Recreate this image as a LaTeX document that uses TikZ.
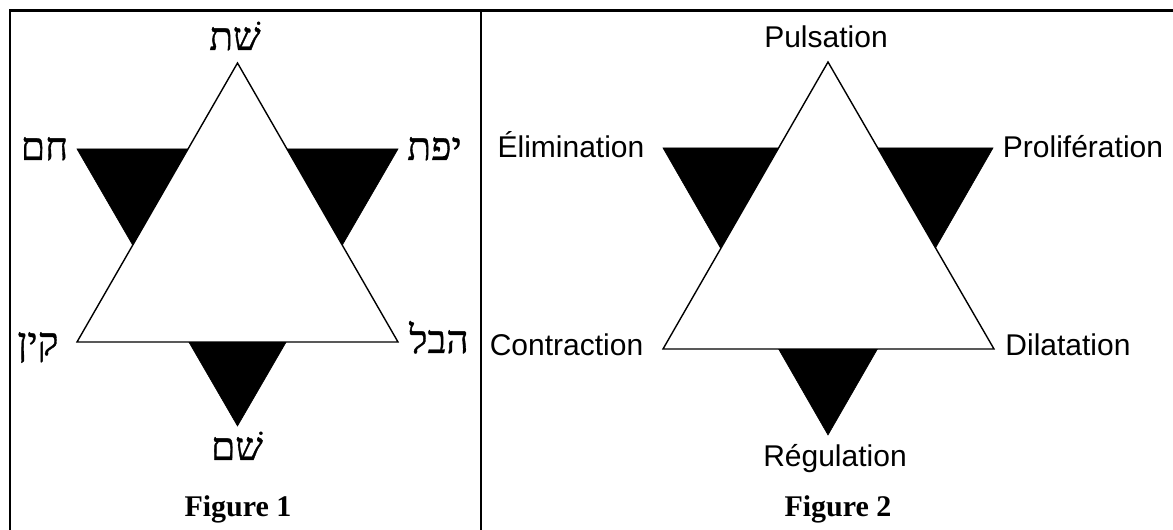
\documentclass[tikz,border=0pt]{standalone}
\usepackage{fontspec}
\setmainfont{Liberation Serif}
\newfontfamily\labfont{Liberation Sans}
\newfontfamily\hebfont[Script=Hebrew,FakeBold=0.9]{Liberation Serif}
\TeXXeTstate=1
\begin{document}
\begin{tikzpicture}[x=1pt,y=1pt,
  frame/.style={line width=2.4pt,line join=miter},
  darktri/.style={fill=black,draw=black,line width=0.6pt,line join=miter},
  lighttri/.style={fill=white,draw=black,line width=1.4pt,line join=miter},
  heb/.style={anchor=base,inner sep=0pt,font=\hebfont\fontsize{39}{44}\selectfont},
  lab/.style={anchor=base,inner sep=0pt,font=\labfont\fontsize{30}{36}\selectfont},
  figcap/.style={anchor=base,inner sep=0pt,font=\bfseries\fontsize{30}{36}\selectfont}]
\useasboundingbox (0,0) rectangle (1173,530);
% frame
\coordinate (fbl) at (10,-5);
\coordinate (ftl) at (10,519.5);
\coordinate (ftr) at (1180,519.5);
\coordinate (dtop) at (481,519.5);
\coordinate (dbot) at (481,-5);
\draw[frame] (fbl) -- (ftl) -- (ftr);
\draw[frame] (dtop) -- (dbot);
% Figure 1 star
\coordinate (a1) at (77,381);
\coordinate (b1) at (398,381);
\coordinate (c1) at (237.5,104);
\coordinate (d1) at (237.5,467);
\coordinate (e1) at (77,188);
\coordinate (f1) at (398,188);
\draw[darktri] (a1) -- (b1) -- (c1) -- cycle;
\draw[lighttri] (d1) -- (f1) -- (e1) -- cycle;
% Figure 2 star
\coordinate (a2) at (663,382);
\coordinate (b2) at (993,382);
\coordinate (c2) at (828,95);
\coordinate (d2) at (828,468);
\coordinate (e2) at (663,181);
\coordinate (f2) at (994,181);
\draw[darktri] (a2) -- (b2) -- (c2) -- cycle;
\draw[lighttri] (d2) -- (f2) -- (e2) -- cycle;
% Figure 1 labels
\node[heb] (seth) at (235,480) {\beginR שׁת\endR};
\node[heb] (ham) at (44.5,370) {חם};
\node[heb] (japheth) at (434.5,370) {יפת};
\node[heb] (cain) at (38,175) {קין};
\node[heb] (abel) at (439,177) {הבל};
\node[heb] (shem) at (237,70) {שׁם};
\node[figcap] (fig1) at (238,13) {Figure 1};
% Figure 2 labels
\node[lab] (puls) at (826,482) {Pulsation};
\node[lab] (elim) at (571,372) {Élimination};
\node[lab] (prol) at (1083,372) {Prolifération};
\node[lab] (contr) at (566.5,174) {Contraction};
\node[lab] (dila) at (1068,174) {Dilatation};
\node[lab] (regu) at (835,63) {Régulation};
\node[figcap] (fig2) at (838,13) {Figure 2};
\end{tikzpicture}
\end{document}
